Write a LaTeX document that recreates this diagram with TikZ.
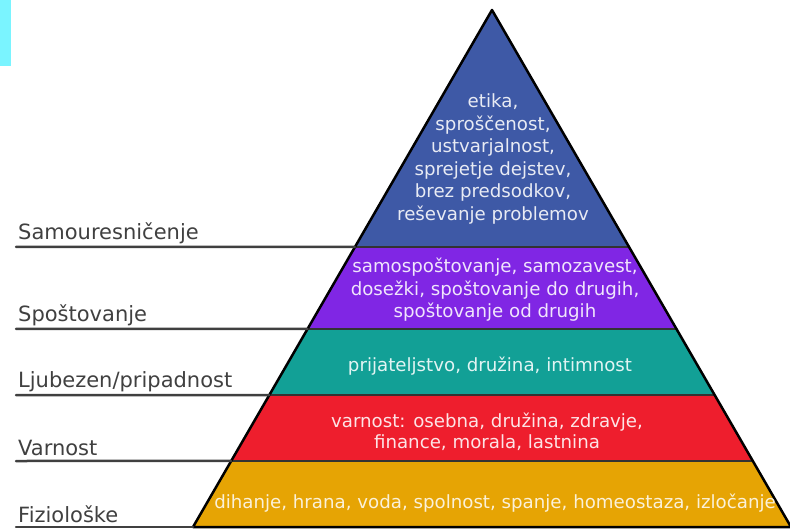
\documentclass[tikz,border=0pt]{standalone}
\usepackage{fontspec}
\setmainfont{DejaVu Sans}
\usetikzlibrary{calc}
\definecolor{cyanbar}{RGB}{122,244,255}
\definecolor{levelblue}{RGB}{62,89,166}
\definecolor{levelpurple}{RGB}{128,38,228}
\definecolor{levelteal}{RGB}{18,160,150}
\definecolor{levelred}{RGB}{238,30,45}
\definecolor{levelgold}{RGB}{230,164,4}
\tikzset{
  needline/.style={draw=black!75, line width=2.5pt},
  needname/.style={anchor=base west, text=black!75, inner sep=0pt, font=\fontsize{21}{25}\selectfont},
  leveltext/.style={align=center, inner sep=0pt, font=\fontsize{18.2}{22.5}\selectfont},
  levelsep/.style={draw=black!80, line width=1.5pt}
}
\begin{document}
\begin{tikzpicture}[line cap=round,line join=round, x=1pt,y=-1pt]
\useasboundingbox (0,0) rectangle (790,529);
\fill [cyanbar] (0,0) rectangle (11,66);
% pyramid corners
\coordinate (apex) at (492,10);
\coordinate (bl) at (193,527);
\coordinate (br) at (791,527);
% level boundaries
\coordinate (l1) at ($(apex)!0.4584!(bl)$);
\coordinate (r1) at ($(apex)!0.4584!(br)$);
\coordinate (l2) at ($(apex)!0.6170!(bl)$);
\coordinate (r2) at ($(apex)!0.6170!(br)$);
\coordinate (l3) at ($(apex)!0.7447!(bl)$);
\coordinate (r3) at ($(apex)!0.7447!(br)$);
\coordinate (l4) at ($(apex)!0.8723!(bl)$);
\coordinate (r4) at ($(apex)!0.8723!(br)$);
\fill [levelblue] (apex) -- (l1) -- (r1) -- cycle;
\fill [levelpurple] (l1) -- (l2) -- (r2) -- (r1) -- cycle;
\fill [levelteal] (l2) -- (l3) -- (r3) -- (r2) -- cycle;
\fill [levelred] (l3) -- (l4) -- (r4) -- (r3) -- cycle;
\fill [levelgold] (l4) -- (bl) -- (br) -- (r4) -- cycle;
\draw [levelsep] (l1) -- (r1);
\draw [levelsep] (l2) -- (r2);
\draw [levelsep] (l3) -- (r3);
\draw [levelsep] (l4) -- (r4);
\draw [black, line width=2.5pt] (apex) -- (bl) -- (br) -- cycle;
% texts inside
\node [leveltext, text=white!88!levelblue] (top) at (493,159) {etika,\\sproščenost,\\ustvarjalnost,\\sprejetje dejstev,\\brez predsodkov,\\reševanje problemov};
\node [leveltext, text=white!88!levelpurple] (esteem) at (495,290) {samospoštovanje, samozavest,\\dosežki, spoštovanje do drugih,\\spoštovanje od drugih};
\node [leveltext, text=white!88!levelteal] (love) at (490,366) {prijateljstvo, družina, intimnost};
\node [leveltext, text=white!88!levelred, font=\fontsize{18.2}{20.5}\selectfont] (safe) at (487,432) {varnost: osebna, družina, zdravje,\\finance, morala, lastnina};
\node [leveltext, text=white!85!levelgold] (body) at (495,503) {dihanje, hrana, voda, spolnost, spanje, homeostaza, izločanje};
% names and lines on the left
\coordinate (s1) at (16,247);
\coordinate (s2) at (16,329);
\coordinate (s3) at (16,395);
\coordinate (s4) at (16,461);
\coordinate (s5) at (16,527);
\draw [needline] (s1) -- (l1);
\draw [needline] (s2) -- (l2);
\draw [needline] (s3) -- (l3);
\draw [needline] (s4) -- (l4);
\draw [needline] (s5) -- (bl);
\node [needname] (n1) at (18,240) {Samouresničenje};
\node [needname] (n2) at (18,322) {Spoštovanje};
\node [needname] (n3) at (18,387) {Ljubezen/pripadnost};
\node [needname] (n4) at (18,455) {Varnost};
\node [needname] (n5) at (18,522) {Fiziološke};
\end{tikzpicture}
\end{document}
